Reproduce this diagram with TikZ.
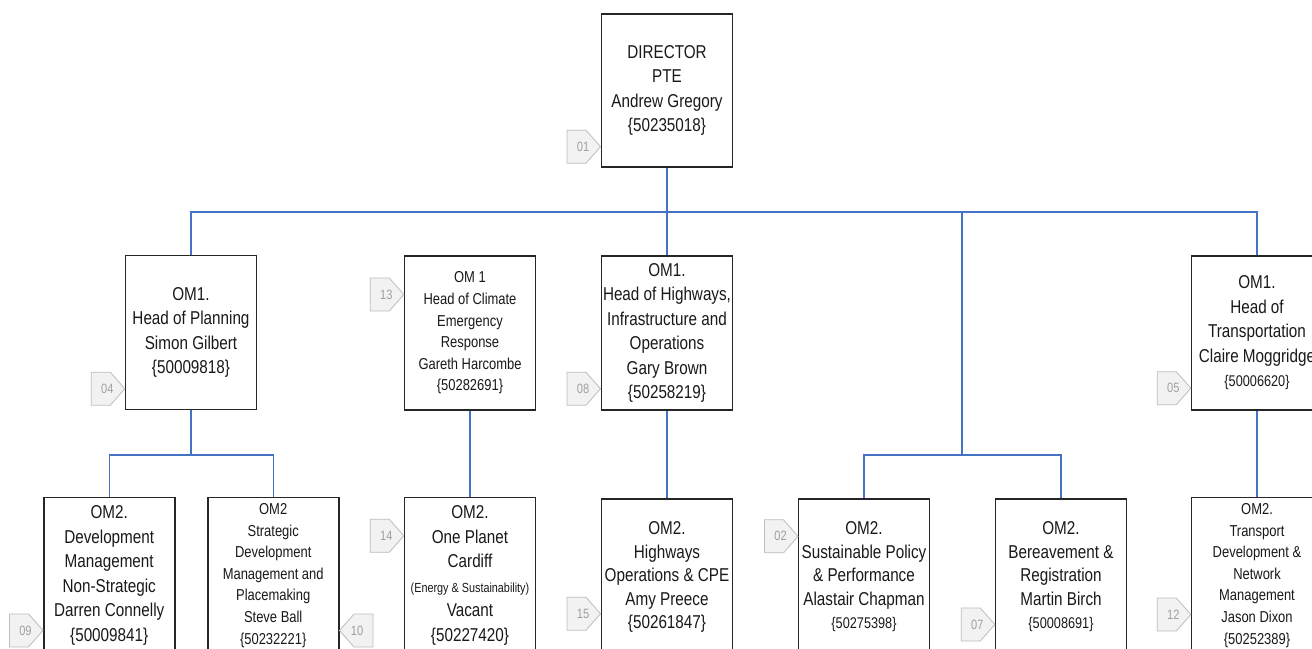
\documentclass[tikz,border=0pt]{standalone}
\usepackage{fontspec}
\setmainfont{Liberation Sans}[FakeStretch=0.82]
\definecolor{connc}{HTML}{4472C4}
\definecolor{tagfill}{HTML}{F2F2F2}
\definecolor{tagdraw}{HTML}{BDBDBD}
\definecolor{tagtxt}{HTML}{A0A0A0}
\definecolor{boxdraw}{HTML}{262626}
\newcommand\tagpr[4]{%
  \draw[tagshape] (#2,#3) -- ++(-14.5,-16.5) -- ++(-19,0) -- ++(0,33) -- ++(19,0) -- cycle;
  \node[tagtext] (#1) at (#2-17.5,#3) {#4};}
\newcommand\tagpl[4]{%
  \draw[tagshape] (#2,#3) -- ++(14.5,-16.5) -- ++(19,0) -- ++(0,33) -- ++(-19,0) -- cycle;
  \node[tagtext] (#1) at (#2+17.5,#3) {#4};}
\newcommand\sml[1]{{\fontsize{15.5}{24}\selectfont #1}}
\begin{document}
\begin{tikzpicture}[x=1pt,y=-1pt,
  box/.style={draw=boxdraw, line width=1.7pt, minimum width=131, minimum height=153,
    inner sep=0pt, align=center, text=black!90, font=\fontsize{18.6}{24.5}\selectfont},
  boxb/.style={box, minimum height=156},
  smallbox/.style={font=\fontsize{15.8}{21.6}\selectfont},
  connl/.style={draw=connc, line width=1.4pt},
  tagshape/.style={draw=tagdraw, fill=tagfill, line width=0.8pt},
  tagtext/.style={text=tagtxt, inner sep=0pt, font=\fontsize{13.5}{14}\selectfont}]
\useasboundingbox (0,0) rectangle (1312,648);
\clip (0,0) rectangle (1312,648);
\fill[white] (0,0) rectangle (1312,648);

% top
\node[box] (dir) at (667,90.5) {DIRECTOR\\PTE\\Andrew Gregory\\\{50235018\}};

% OM1 row
\node[box, minimum height=154] (plan) at (191,332.5) {OM1.\\Head of Planning\\Simon Gilbert\\\{50009818\}};
\node[box, minimum height=154, smallbox] (clim) at (470,333) {OM 1\\Head of Climate\\Emergency\\Response\\Gareth Harcombe\\\{50282691\}};
\node[box, minimum height=154] (hwy) at (667,333) {OM1.\\Head of Highways,\\Infrastructure and\\Operations\\Gary Brown\\\{50258219\}};
\node[box, minimum height=154] (trans) at (1257,333) {OM1.\\Head of\\Transportation\\Claire Moggridge\\\sml{\{50006620\}}};

% OM2 row
\node[boxb] (dev) at (109.2,575.5) {OM2.\\Development\\Management\\Non-Strategic\\Darren Connelly\\\{50009841\}};
\node[boxb, smallbox] (strat) at (273.2,575.5) {OM2\\Strategic\\Development\\Management and\\Placemaking\\Steve Ball\\\{50232221\}};
\node[boxb] (opc) at (470,575.5) {OM2.\\One Planet\\Cardiff\\{\fontsize{13.2}{24}\selectfont (Energy \& Sustainability)}\\Vacant\\\{50227420\}};
\node[boxb, font=\fontsize{18.6}{23.5}\selectfont] (hops) at (667,577) {OM2.\\Highways\\Operations \& CPE\\Amy Preece\\\{50261847\}};
\node[boxb, font=\fontsize{18.6}{23.5}\selectfont] (sus) at (864,577) {OM2.\\Sustainable Policy\\\& Performance\\Alastair Chapman\\\sml{\{50275398\}}};
\node[boxb, font=\fontsize{18.6}{23.5}\selectfont] (ber) at (1061,577) {OM2.\\Bereavement \&\\Registration\\Martin Birch\\\sml{\{50008691\}}};
\node[boxb, smallbox] (tdev) at (1257,575.5) {OM2.\\Transport\\Development \&\\Network\\Management\\Jason Dixon\\\{50252389\}};

% connectors
\coordinate (j0) at (667,212);
\coordinate (j1) at (962,455);
\coordinate (j2) at (191,455);
\draw[connl] (dir.south) -- (j0);
\draw[connl] (j0) -| (plan.north);
\draw[connl] (j0) -| (trans.north);
\draw[connl] (j0) -- (hwy.north);
\draw[connl] (j0) -| (j1);
\draw[connl] (j1) -| (sus.north);
\draw[connl] (j1) -| (ber.north);
\draw[connl] (plan.south) -- (j2);
\draw[connl] (j2) -| (dev.north);
\draw[connl] (j2) -| (strat.north);
\draw[connl] (clim.south) -- (opc.north);
\draw[connl] (hwy.south) -- (hops.north);
\draw[connl] (trans.south) -- (tdev.north);

% tags
\tagpr{t01}{600.5}{146.7}{01}
\tagpr{t04}{124.8}{388.7}{04}
\tagpr{t13}{403.8}{294.5}{13}
\tagpr{t08}{600.5}{388.7}{08}
\tagpr{t05}{1190.8}{388.2}{05}
\tagpr{t09}{43}{630.4}{09}
\tagpl{t10}{339.5}{630.5}{10}
\tagpr{t14}{403.8}{535.8}{14}
\tagpr{t15}{600.5}{613.7}{15}
\tagpr{t02}{798}{536.3}{02}
\tagpr{t07}{994.8}{624.5}{07}
\tagpr{t12}{1190.8}{614.5}{12}
\end{tikzpicture}
\end{document}
